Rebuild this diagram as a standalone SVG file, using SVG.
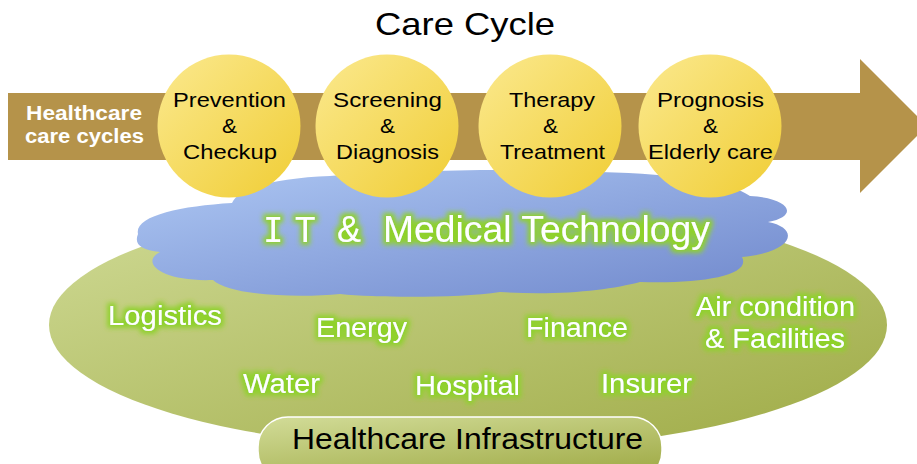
<svg xmlns="http://www.w3.org/2000/svg" width="917" height="464" viewBox="0 0 917 464">
<style>
  .ttl{font-family:"Liberation Sans",Arial,sans-serif;font-size:32px;fill:#000}
  .ct{font-family:"Liberation Sans",Arial,sans-serif;font-size:21px;fill:#000;text-anchor:start}
  .hc{font-family:"Liberation Sans",Arial,sans-serif;font-size:20px;font-weight:bold;fill:#fff}
  .lb{font-family:"Liberation Sans",Arial,sans-serif;font-size:27px;fill:#fff}
  .it{font-family:"Liberation Sans",Arial,sans-serif;font-size:36px;fill:#fff}
  .inf{font-family:"Liberation Sans",Arial,sans-serif;font-size:29px;fill:#000}
  .circ{fill:url(#yel)}
</style>
<defs>
  <linearGradient id="yel" x1="0" y1="0" x2="1" y2="1">
    <stop offset="0" stop-color="#fbe98f"/>
    <stop offset="1" stop-color="#f0cd34"/>
  </linearGradient>
  <linearGradient id="grn" x1="0" y1="0" x2="1" y2="1">
    <stop offset="0" stop-color="#d0db96"/>
    <stop offset="1" stop-color="#9eaa45"/>
  </linearGradient>
  <linearGradient id="pill" x1="0" y1="0" x2="0.6" y2="1">
    <stop offset="0" stop-color="#d2dc98"/>
    <stop offset="1" stop-color="#a3ae4c"/>
  </linearGradient>
  <linearGradient id="blu" x1="0" y1="0" x2="1" y2="1">
    <stop offset="0" stop-color="#adc7f3"/>
    <stop offset="1" stop-color="#7088cc"/>
  </linearGradient>
  <filter id="glow" x="-20%" y="-40%" width="140%" height="180%">
    <feMorphology in="SourceAlpha" operator="dilate" radius="3" result="d"/>
    <feGaussianBlur in="d" stdDeviation="2.5" result="b"/>
    <feFlood flood-color="#8fd12c"/>
    <feComposite in2="b" operator="in" result="g"/>
    <feMerge><feMergeNode in="g"/><feMergeNode in="SourceGraphic"/></feMerge>
  </filter>
</defs>

<rect width="917" height="464" fill="#fff"/>

<g id="title"><text class="ttl" x="375" y="35" textLength="180" lengthAdjust="spacingAndGlyphs">Care Cycle</text></g>

<g id="infrastructure">
  <ellipse cx="468" cy="325" rx="419" ry="125" fill="url(#grn)"/>
  <g filter="url(#glow)">
    <text class="lb" x="108" y="325" textLength="114" lengthAdjust="spacingAndGlyphs">Logistics</text>
    <text class="lb" x="316" y="337" textLength="91" lengthAdjust="spacingAndGlyphs">Energy</text>
    <text class="lb" x="526" y="337" textLength="102" lengthAdjust="spacingAndGlyphs">Finance</text>
    <text class="lb" x="696" y="316" textLength="159" lengthAdjust="spacingAndGlyphs">Air condition</text>
    <text class="lb" x="705" y="348" textLength="140" lengthAdjust="spacingAndGlyphs">&amp; Facilities</text>
    <text class="lb" x="243" y="393" textLength="77" lengthAdjust="spacingAndGlyphs">Water</text>
    <text class="lb" x="415" y="395" textLength="105" lengthAdjust="spacingAndGlyphs">Hospital</text>
    <text class="lb" x="601" y="393" textLength="91" lengthAdjust="spacingAndGlyphs">Insurer</text>
  </g>
</g>

<g id="infra-label">
  <rect x="258" y="417" width="404" height="64" rx="30" fill="url(#pill)" stroke="#fff" stroke-width="1.5"/>
  <text class="inf" x="292" y="449" textLength="351" lengthAdjust="spacingAndGlyphs">Healthcare Infrastructure</text>
</g>

<g id="it-cloud">
  <path fill="url(#blu)" d="M138,234 C134,216 180,206 232,203 C240,186 280,178 330,176 C400,170 520,168 600,172 C680,174 730,182 750,196 C790,198 800,216 768,222 C800,228 795,252 742,257 C752,276 700,284 640,282 C610,290 560,296 500,292 C460,298 380,298 340,294 C300,298 230,296 213,280 C160,282 140,262 160,252 C140,250 134,244 138,234 Z"/>
  <g filter="url(#glow)">
    <text class="it" y="242"><tspan x="263" font-family="'DejaVu Sans Mono',monospace" font-size="34">I</tspan><tspan x="295" font-family="'DejaVu Sans Mono',monospace" font-size="34">T</tspan><tspan x="337">&amp;</tspan><tspan x="383" textLength="327" lengthAdjust="spacingAndGlyphs">Medical Technology</tspan></text>
  </g>
</g>

<g id="connectors">
  <path id="cycle-arrow" d="M8,93 H860 V59 L927,126 L860,193 V160 H8 Z" fill="#b5934a"/>
  <text class="hc" x="26" y="120" textLength="116" lengthAdjust="spacingAndGlyphs">Healthcare</text>
  <text class="hc" x="25" y="143" textLength="119" lengthAdjust="spacingAndGlyphs">care cycles</text>
</g>

<g id="prevention">
  <circle class="circ" cx="229" cy="126" r="71.5"/>
  <text class="ct" x="173" y="107" textLength="113" lengthAdjust="spacingAndGlyphs">Prevention</text>
  <text class="ct" x="222" y="133" textLength="15" lengthAdjust="spacingAndGlyphs">&amp;</text>
  <text class="ct" x="183" y="159" textLength="94" lengthAdjust="spacingAndGlyphs">Checkup</text>
</g>
<g id="screening">
  <circle class="circ" cx="387" cy="126" r="71.5"/>
  <text class="ct" x="333" y="107" textLength="109" lengthAdjust="spacingAndGlyphs">Screening</text>
  <text class="ct" x="380" y="133" textLength="15" lengthAdjust="spacingAndGlyphs">&amp;</text>
  <text class="ct" x="336" y="159" textLength="103" lengthAdjust="spacingAndGlyphs">Diagnosis</text>
</g>
<g id="therapy">
  <circle class="circ" cx="550" cy="126" r="71.5"/>
  <text class="ct" x="509" y="107" textLength="86" lengthAdjust="spacingAndGlyphs">Therapy</text>
  <text class="ct" x="543" y="133" textLength="15" lengthAdjust="spacingAndGlyphs">&amp;</text>
  <text class="ct" x="500" y="159" textLength="105" lengthAdjust="spacingAndGlyphs">Treatment</text>
</g>
<g id="prognosis">
  <circle class="circ" cx="710" cy="126" r="71.5"/>
  <text class="ct" x="657" y="107" textLength="107" lengthAdjust="spacingAndGlyphs">Prognosis</text>
  <text class="ct" x="703" y="133" textLength="15" lengthAdjust="spacingAndGlyphs">&amp;</text>
  <text class="ct" x="648" y="159" textLength="125" lengthAdjust="spacingAndGlyphs">Elderly care</text>
</g>
</svg>
